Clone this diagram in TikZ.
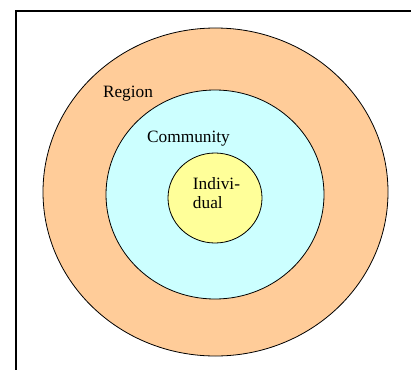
\documentclass[tikz,border=0pt]{standalone}
\usepackage{fontspec}
\setmainfont{Liberation Serif}
\usetikzlibrary{shapes.geometric}

\definecolor{regionfill}{HTML}{FFCC99}
\definecolor{communityfill}{HTML}{CCFFFF}
\definecolor{individualfill}{HTML}{FFFF99}

\tikzset{
  ring/.style={ellipse, draw=black, line width=0.8pt, inner sep=0pt},
  label/.style={inner sep=0pt, font=\fontsize{17.3}{19}\selectfont}
}

\begin{document}
\begin{tikzpicture}[x=1pt, y=-1pt]
  \useasboundingbox (0,0) rectangle (411,369);
  % frame
  \draw[line width=1.6pt] (16,372) -- (16,11) -- (414,11);

  % nested rings
  \foreach \name/\col/\cx/\cy/\w/\h in {
      region/regionfill/215.5/192/345/328,
      community/communityfill/215/194.5/218/209,
      individual/individualfill/215/198/94/90
    } {
    \node[ring, fill=\col, minimum width=\w pt, minimum height=\h pt] (\name) at (\cx,\cy) {};
  }

  % ring labels
  \node[label] (regionlabel) at (128,94) {Region};
  \node[label] (communitylabel) at (188.5,139) {Community};
  \node[label, align=left] (individuallabel) at (216.5,193) {Indivi-\\dual};
\end{tikzpicture}
\end{document}
